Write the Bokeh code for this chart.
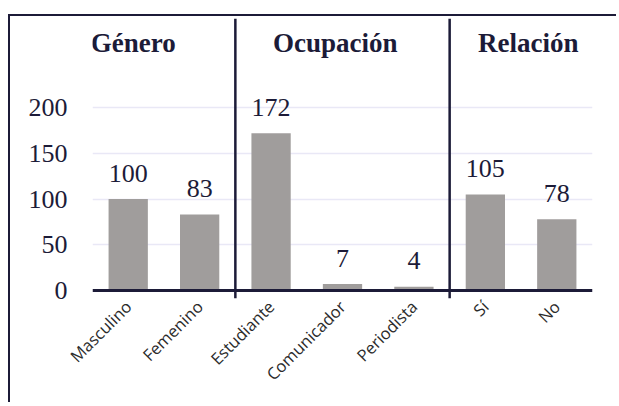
import math
from bokeh.plotting import figure
from bokeh.models import ColumnDataSource, FactorRange, Range1d, FixedTicker
from bokeh.core.properties import value
from bokeh.embed import file_html
from bokeh.resources import INLINE

# ---- data ----
groups = ["Género", "Ocupación", "Relación"]
group_sizes = [2, 3, 2]
categories = ["Masculino", "Femenino", "Estudiante", "Comunicador", "Periodista", "Sí", "No"]
counts = [100, 83, 172, 7, 4, 105, 78]
y_ticks = [0, 50, 100, 150, 200]

DARK = "#1c1b38"
BAR = "#a09d9c"
GRID = "#e9e8f6"
SERIF = "Liberation Serif"

YTOP = 297.3
YBOT = -8.74

p = figure(
    x_range=FactorRange(*categories, range_padding=0, factor_padding=0),
    y_range=Range1d(YBOT, YTOP),
    width=608, height=388,
    output_backend="svg", toolbar_location=None,
    min_border_left=82, min_border_right=26, min_border_top=2, min_border_bottom=106,
)
p.outline_line_color = None
p.background_fill_color = "white"
p.border_fill_color = "white"
# outer frame: left and top edges
p.styles = {"margin-left": "10px", "margin-top": "16px",
            "box-shadow": "-2px -2px 0 0 " + DARK}

src = ColumnDataSource(dict(cat=categories, n=counts, lab=[str(v) for v in counts]))
p.vbar(x="cat", top="n", width=0.55, source=src, fill_color=BAR, line_color=None)

p.text(x="cat", y="n", text="lab", source=src, text_align="center", text_baseline="alphabetic",
       y_offset=-26, text_font=value(SERIF), text_font_size="26px", text_color=DARK)

# baseline (zero line) across all categories
p.segment(x0=[0], x1=[len(categories)], y0=[0], y1=[0], line_color=DARK, line_width=3)

# group separators (between groups) and group titles
bounds = []
acc = 0
for s in group_sizes[:-1]:
    acc += s
    bounds.append(acc)
p.segment(x0=bounds, x1=bounds, y0=[YBOT] * len(bounds), y1=[YTOP] * len(bounds),
          line_color=DARK, line_width=2.5)

title_x = [0.57, 3.4, 6.1]
p.text(x=title_x, y=[270] * 3, text=groups, text_align="center", text_baseline="alphabetic",
       text_font=value(SERIF), text_font_size="27px", text_font_style="bold", text_color=DARK)

# axes
xa = p.xaxis[0]
xa.axis_line_color = None
xa.major_tick_line_color = None
xa.minor_tick_line_color = None
xa.major_tick_out = 0
xa.major_tick_in = 0
xa.major_label_orientation = math.pi / 4
xa.major_label_text_font = "Open Sans"
xa.major_label_text_font_size = "16.5px"
xa.major_label_text_color = "#2b2b2b"
xa.major_label_standoff = 5

ya = p.yaxis[0]
ya.ticker = FixedTicker(ticks=y_ticks)
ya.axis_line_color = None
ya.major_tick_line_color = None
ya.minor_tick_line_color = None
ya.major_tick_out = 0
ya.major_tick_in = 0
ya.major_label_standoff = 25
ya.major_label_text_font = SERIF
ya.major_label_text_font_size = "26px"
ya.major_label_text_color = DARK

p.xgrid.grid_line_color = None
p.ygrid.ticker = FixedTicker(ticks=y_ticks[1:])
p.ygrid.grid_line_color = GRID
p.ygrid.grid_line_width = 1.5

open("out.html", "w").write(file_html(p, INLINE))
